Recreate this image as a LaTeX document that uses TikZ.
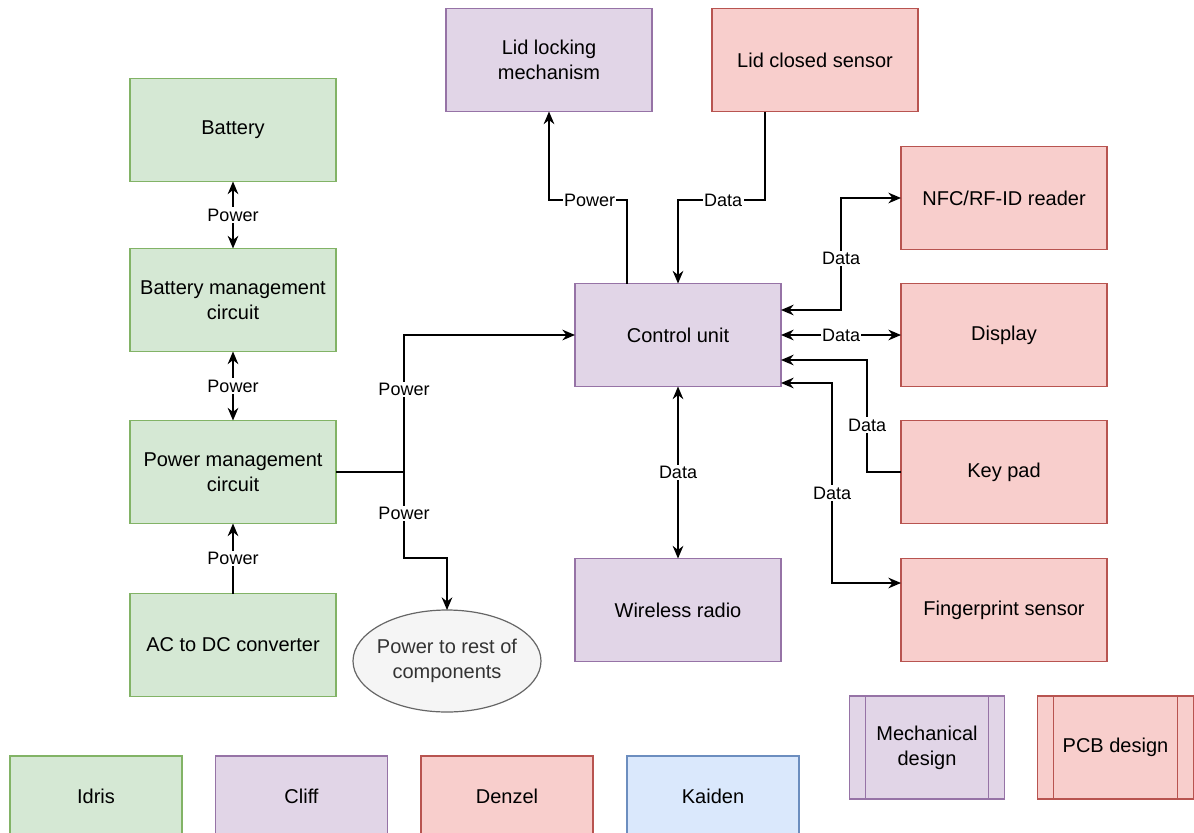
\documentclass[tikz,border=0pt]{standalone}
\usepackage{fontspec}
\setmainfont{Liberation Sans}
\usepackage{xcolor}
\usepackage{tikz}
\usetikzlibrary{positioning, arrows.meta, shapes.geometric, calc}

\definecolor{gfill}{HTML}{D5E8D4}
\definecolor{gline}{HTML}{82B366}
\definecolor{pfill}{HTML}{E1D5E7}
\definecolor{pline}{HTML}{9673A6}
\definecolor{rfill}{HTML}{F8CECC}
\definecolor{rline}{HTML}{B85450}
\definecolor{bfill}{HTML}{DAE8FC}
\definecolor{bline}{HTML}{6C8EBF}
\definecolor{efill}{HTML}{F5F5F5}
\definecolor{eline}{HTML}{666666}
\definecolor{etext}{HTML}{333333}

\begin{document}
\begin{tikzpicture}[x=0.75pt,y=-0.75pt,>={Stealth[length=9.5pt,width=8pt]}]
\tikzstyle{box}=[rectangle,draw,line width=0.9pt,minimum width=154.5pt,minimum height=77.25pt,inner sep=2pt,outer sep=0pt,align=center,font=\fontsize{15}{18.75}\selectfont]
\tikzstyle{gbox}=[box,fill=gfill,draw=gline]
\tikzstyle{pbox}=[box,fill=pfill,draw=pline]
\tikzstyle{rbox}=[box,fill=rfill,draw=rline]
\tikzstyle{bluebox}=[box,fill=bfill,draw=bline]
\tikzstyle{namebox}=[minimum width=129pt,minimum height=60pt]
\tikzstyle{procbox}=[minimum width=116.5pt]
\tikzstyle{lbl}=[fill=white,inner sep=1pt,font=\fontsize{13.5}{16}\selectfont]
\tikzstyle{wire}=[line width=1.1pt]

\useasboundingbox (0,0) rectangle (1194,832);
\clip (0,0) rectangle (1194,832);

\node[gbox](bat) at (233,130) {Battery};
\node[gbox](bmc) at (233,300) {Battery management\\circuit};
\node[gbox](pmc) at (233,472) {Power management\\circuit};
\node[gbox](acdc) at (233,645) {AC to DC converter};
\node[ellipse,draw=eline,fill=efill,line width=0.9pt,minimum width=141pt,minimum height=76.5pt,inner xsep=-7pt,inner ysep=0pt,outer sep=0pt,align=center,text=etext,font=\fontsize{15}{18.75}\selectfont](rest) at (447,661) {Power to rest of\\components};

\node[pbox](lock) at (549,60) {Lid locking\\mechanism};
\node[rbox](sensor) at (815,60) {Lid closed sensor};
\node[pbox](ctrl) at (678,335) {Control unit};
\node[pbox](radio) at (678,610) {Wireless radio};
\node[rbox](nfc) at (1004,198) {NFC/RF-ID reader};
\node[rbox](disp) at (1004,335) {Display};
\node[rbox](keypad) at (1004,472) {Key pad};
\node[rbox](finger) at (1004,610) {Fingerprint sensor};

\node[gbox,namebox](idris) at (96,796) {Idris};
\node[pbox,namebox](cliff) at (301.5,796) {Cliff};
\node[rbox,namebox](denzel) at (507,796) {Denzel};
\node[bluebox,namebox](kaiden) at (713,796) {Kaiden};

\node[pbox,procbox](mech) at (927,747.5) {Mechanical\\design};
\draw[pline,line width=0.9pt] ([xshift=12pt]mech.north west) -- ([xshift=12pt]mech.south west);
\draw[pline,line width=0.9pt] ([xshift=-12pt]mech.north east) -- ([xshift=-12pt]mech.south east);
\node[rbox,procbox](pcb) at (1115.5,747.5) {PCB design};
\draw[rline,line width=0.9pt] ([xshift=12pt]pcb.north west) -- ([xshift=12pt]pcb.south west);
\draw[rline,line width=0.9pt] ([xshift=-12pt]pcb.north east) -- ([xshift=-12pt]pcb.south east);

\coordinate (j1) at (404,472);
\draw[wire,<->] (bat) -- node[lbl]{Power} (bmc);
\draw[wire,<->] (bmc) -- node[lbl]{Power} (pmc);
\draw[wire,->] (acdc) -- node[lbl]{Power} (pmc);
\draw[wire] (pmc.east) -- (j1);
\draw[wire,->] (j1) |- node[lbl,pos=0.3]{Power} (ctrl.west);
\draw[wire,->] (j1) -- node[lbl,pos=0.48]{Power} ++(0,86) -| (rest.north);

\draw[wire,->] ($(ctrl.north)+(-51,0)$) |- node[lbl,pos=0.74]{Power} (lock.south |- 0,200) -- (lock.south);
\draw[wire,->] ($(sensor.south)+(-50,0)$) |- node[lbl,pos=0.74]{Data} (ctrl.north |- 0,200) -- (ctrl.north);
\draw[wire,<->] ($(ctrl.east)+(0,-25)$) -| node[lbl,pos=0.73]{Data} ($(nfc.west)+(-60,0)$) -- (nfc.west);
\draw[wire,<->] (ctrl) -- node[lbl]{Data} (disp);
\draw[wire,->] (keypad.west) -| node[lbl,pos=0.71]{Data} ($(ctrl.east)+(86,25)$) -- ($(ctrl.east)+(0,25)$);
\draw[wire,<->] ($(ctrl.east)+(0,48)$) -| node[lbl,pos=0.775]{Data} ($(finger.west)+(-69,-27)$) -- ($(finger.west)+(0,-27)$);
\draw[wire,<->] (ctrl) -- node[lbl]{Data} (radio);
\end{tikzpicture}
\end{document}
